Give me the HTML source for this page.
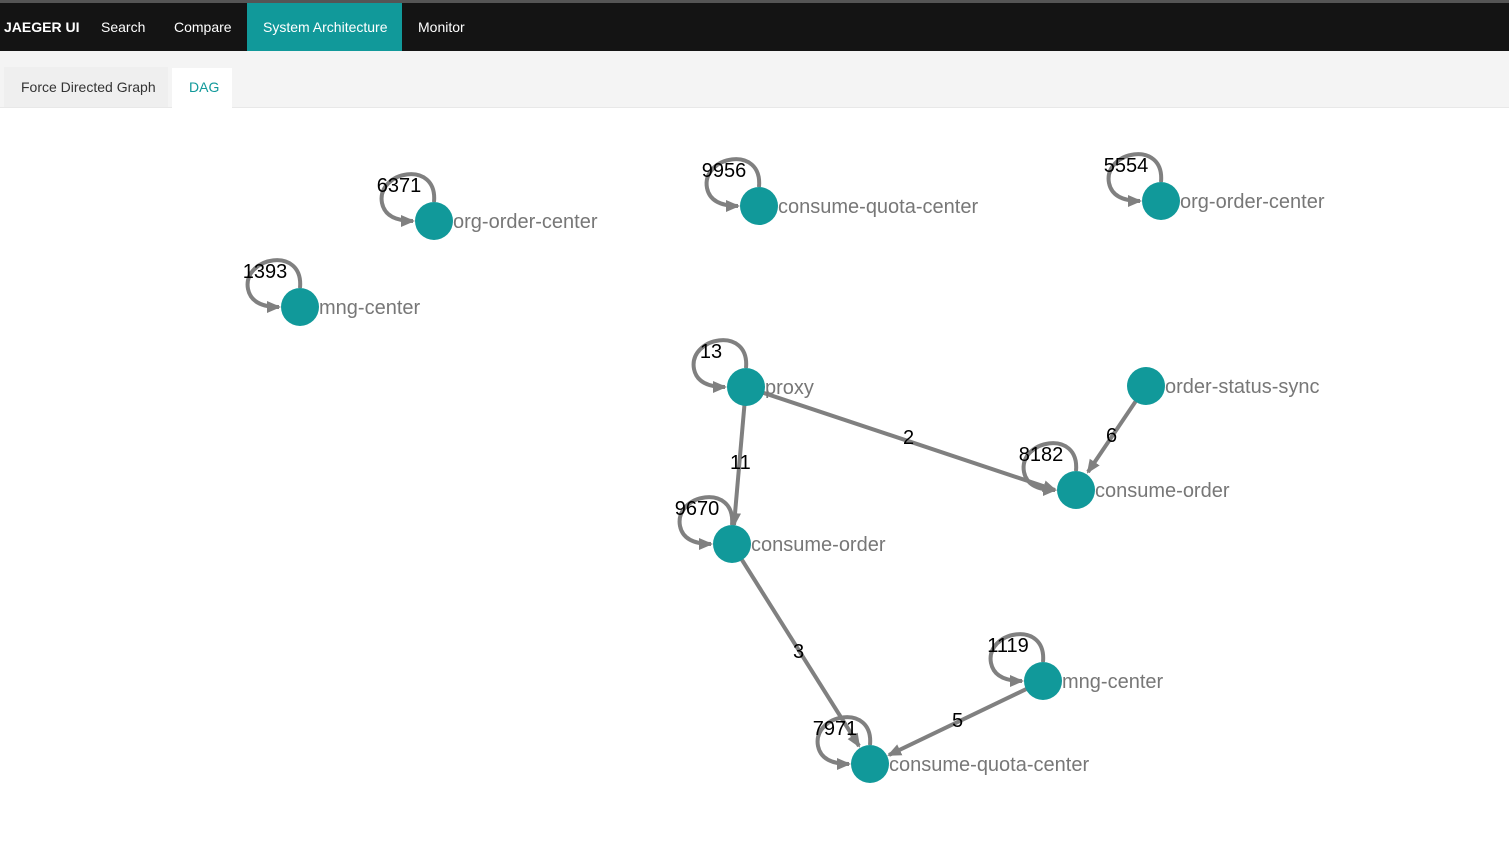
<!DOCTYPE html>
<html><head><meta charset="utf-8"><style>
body{margin:0;width:1509px;height:843px;background:#fff;font-family:"Liberation Sans",sans-serif;overflow:hidden;position:relative}
.top{position:absolute;left:0;top:0;width:1509px;height:3px;background:#555}
.nav{position:absolute;left:0;top:3px;width:1509px;height:48px;background:#141414;color:#fff;font-size:14px}
.nav span{position:absolute;top:16px}
.act{position:absolute;left:247px;top:0;width:155px;height:48px;background:#11999a}
.tabs{position:absolute;left:0;top:51px;width:1509px;height:56px;background:#f4f4f4;border-bottom:1px solid #e8e8e8}
.t1{position:absolute;left:4px;top:16px;width:164px;height:40px;background:#efefef;font-size:14px;color:#333}
.t2{position:absolute;left:172px;top:17px;width:60px;height:40px;background:#fff;font-size:14px;color:#11999a}
svg{position:absolute;left:0;top:0}
</style></head><body>
<div class="top"></div>
<div class="nav"><div class="act"></div>
<span style="left:4px;font-weight:bold">JAEGER UI</span>
<span style="left:101px">Search</span>
<span style="left:174px">Compare</span>
<span style="left:263px">System Architecture</span>
<span style="left:418px">Monitor</span></div>
<div class="tabs"><div class="t1"><span style="position:absolute;left:17px;top:12px">Force Directed Graph</span></div><div class="t2"><span style="position:absolute;left:17px;top:11px">DAG</span></div></div>
<svg width="1509" height="843" font-family="Liberation Sans, Arial, sans-serif">
<defs>
<marker id="b" markerWidth="14" markerHeight="12" refX="12" refY="6" orient="auto" markerUnits="userSpaceOnUse"><path d="M0,0L14,6L0,12z" fill="#808080"/></marker></defs>
<g stroke="#808080" stroke-width="4" fill="none">
<line x1="746" y1="387" x2="1055" y2="490" marker-end="url(#b)"/>
<line x1="746" y1="387" x2="734" y2="525" marker-end="url(#b)"/>
<line x1="1146" y1="386" x2="1088" y2="472" marker-end="url(#b)"/>
<line x1="732" y1="544" x2="859" y2="746" marker-end="url(#b)"/>
<line x1="1043" y1="681" x2="889" y2="755" marker-end="url(#b)"/>
</g>
<g stroke="#808080" stroke-width="4" fill="none" id="loops"></g>
<g fill="#11999a" id="nodes"></g>
<g font-size="20" fill="#777" id="labels"></g>
<g font-size="20" fill="#000">
<text x="903" y="444">2</text><text x="730" y="469">11</text><text x="1106" y="442">6</text><text x="793" y="658">3</text><text x="952" y="727">5</text>
</g>
<script>
var N=[[434,221,"org-order-center",6371],[759,206,"consume-quota-center",9956],[1161,201,"org-order-center",5554],[300,307,"mng-center",1393],[746,387,"proxy",13],[1146,386,"order-status-sync",null],[1076,490,"consume-order",8182],[732,544,"consume-order",9670],[1043,681,"mng-center",1119],[870,764,"consume-quota-center",7971]];
var ns="http://www.w3.org/2000/svg";
function el(t,a,p,txt){var e=document.createElementNS(ns,t);for(var k in a)e.setAttribute(k,a[k]);if(txt!=null)e.textContent=txt;document.getElementById(p)?document.getElementById(p).appendChild(e):p.appendChild(e);return e;}
var svg=document.querySelector("svg");
N.forEach(function(n){var x=n[0],y=n[1];
if(n[3]!=null){el("path",{d:"M"+x+","+(y-19)+" C"+(x+4)+","+(y-62)+" "+(x-58)+","+(y-50)+" "+(x-52)+","+(y-18)+" C"+(x-49)+","+(y-3)+" "+(x-34)+","+y+" "+(x-21)+","+y,"marker-end":"url(#b)"},"loops");
el("text",{x:x-35,y:y-29,"font-size":20,fill:"#000","text-anchor":"middle"},svg,String(n[3]));}
el("circle",{cx:x,cy:y,r:19},"nodes");
el("text",{x:x+19,y:y+7},"labels",n[2]);});
</script>
</svg>
</body></html>
